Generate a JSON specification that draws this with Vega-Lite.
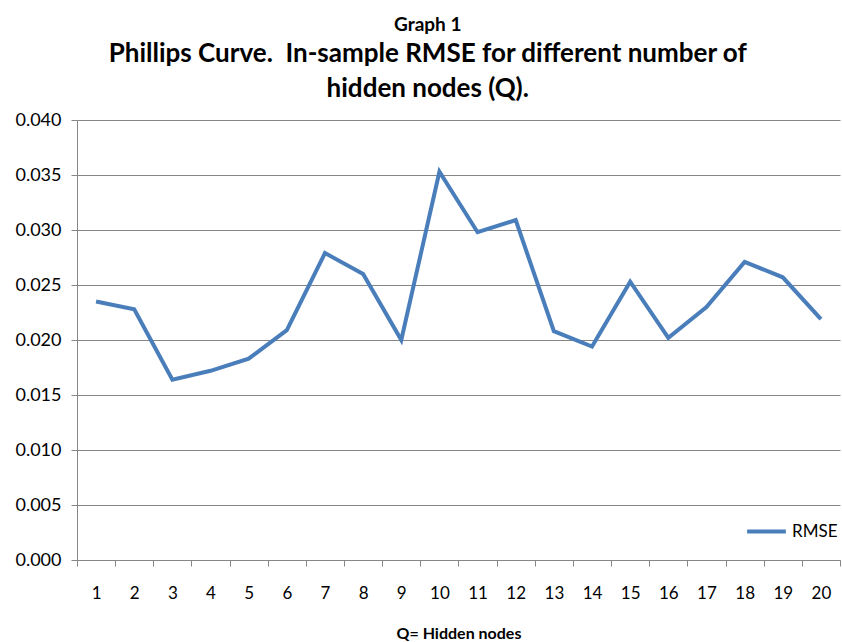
{
  "$schema": "https://vega.github.io/schema/vega-lite/v6.json",
  "width": 763,
  "height": 440,
  "autosize": {"type": "none"},
  "padding": {"left": 77, "top": 120, "right": 2, "bottom": 82},
  "background": "white",
  "title": {
    "text": "Graph 1",
    "subtitle": ["Phillips Curve.\u00a0 In-sample RMSE for different number of", "hidden nodes (Q)."],
    "anchor": "middle",
    "frame": "bounds",
    "font": "Lato",
    "fontSize": 19,
    "fontWeight": "bold",
    "color": "black",
    "subtitleFont": "Lato",
    "subtitleFontSize": 26,
    "subtitleFontWeight": "bold",
    "subtitleColor": "black",
    "subtitleLineHeight": 35,
    "subtitlePadding": 6,
    "offset": 9
  },
  "data": {
    "values": [
      {"Q": 1, "RMSE": 0.0235, "series": "RMSE"},
      {"Q": 2, "RMSE": 0.0228, "series": "RMSE"},
      {"Q": 3, "RMSE": 0.0164, "series": "RMSE"},
      {"Q": 4, "RMSE": 0.0172, "series": "RMSE"},
      {"Q": 5, "RMSE": 0.0183, "series": "RMSE"},
      {"Q": 6, "RMSE": 0.0209, "series": "RMSE"},
      {"Q": 7, "RMSE": 0.0279, "series": "RMSE"},
      {"Q": 8, "RMSE": 0.0260, "series": "RMSE"},
      {"Q": 9, "RMSE": 0.0200, "series": "RMSE"},
      {"Q": 10, "RMSE": 0.0353, "series": "RMSE"},
      {"Q": 11, "RMSE": 0.0298, "series": "RMSE"},
      {"Q": 12, "RMSE": 0.0309, "series": "RMSE"},
      {"Q": 13, "RMSE": 0.0208, "series": "RMSE"},
      {"Q": 14, "RMSE": 0.0194, "series": "RMSE"},
      {"Q": 15, "RMSE": 0.0253, "series": "RMSE"},
      {"Q": 16, "RMSE": 0.0202, "series": "RMSE"},
      {"Q": 17, "RMSE": 0.0230, "series": "RMSE"},
      {"Q": 18, "RMSE": 0.0271, "series": "RMSE"},
      {"Q": 19, "RMSE": 0.0257, "series": "RMSE"},
      {"Q": 20, "RMSE": 0.0219, "series": "RMSE"}
    ]
  },
  "mark": {"type": "line", "strokeWidth": 4, "strokeJoin": "miter"},
  "encoding": {
    "x": {
      "field": "Q",
      "type": "ordinal",
      "sort": null,
      "scale": {"paddingInner": 0, "paddingOuter": 0},
      "axis": {
        "title": "Q= Hidden nodes",
        "titleFont": "Lato",
        "titleFontSize": 16,
        "titleFontWeight": "bold",
        "titleColor": "black",
        "titlePadding": 24,
        "labelAngle": 0,
        "labelFont": "Lato",
        "labelFontSize": 17,
        "labelColor": "black",
        "labelPadding": 19,
        "tickBand": "extent",
        "tickSize": 6,
        "tickColor": "#868686",
        "domainColor": "#868686",
        "grid": false
      }
    },
    "y": {
      "field": "RMSE",
      "type": "quantitative",
      "scale": {"domain": [0, 0.04], "nice": false},
      "axis": {
        "title": null,
        "values": [0, 0.005, 0.01, 0.015, 0.02, 0.025, 0.03, 0.035, 0.04],
        "format": ".3f",
        "labelFont": "Lato",
        "labelFontSize": 18,
        "labelColor": "black",
        "labelPadding": 10,
        "tickSize": 6,
        "tickColor": "#868686",
        "domainColor": "#868686",
        "gridColor": "#868686",
        "gridWidth": 1
      }
    },
    "color": {
      "field": "series",
      "type": "nominal",
      "scale": {"range": ["#4A7EBB"]},
      "legend": {
        "title": null,
        "orient": "none",
        "legendX": 668,
        "legendY": 390,
        "symbolType": "stroke",
        "symbolSize": 1500,
        "symbolStrokeWidth": 4,
        "labelFont": "Lato",
        "labelFontSize": 17,
        "labelColor": "black"
      }
    }
  },
  "config": {"view": {"stroke": null}}
}
